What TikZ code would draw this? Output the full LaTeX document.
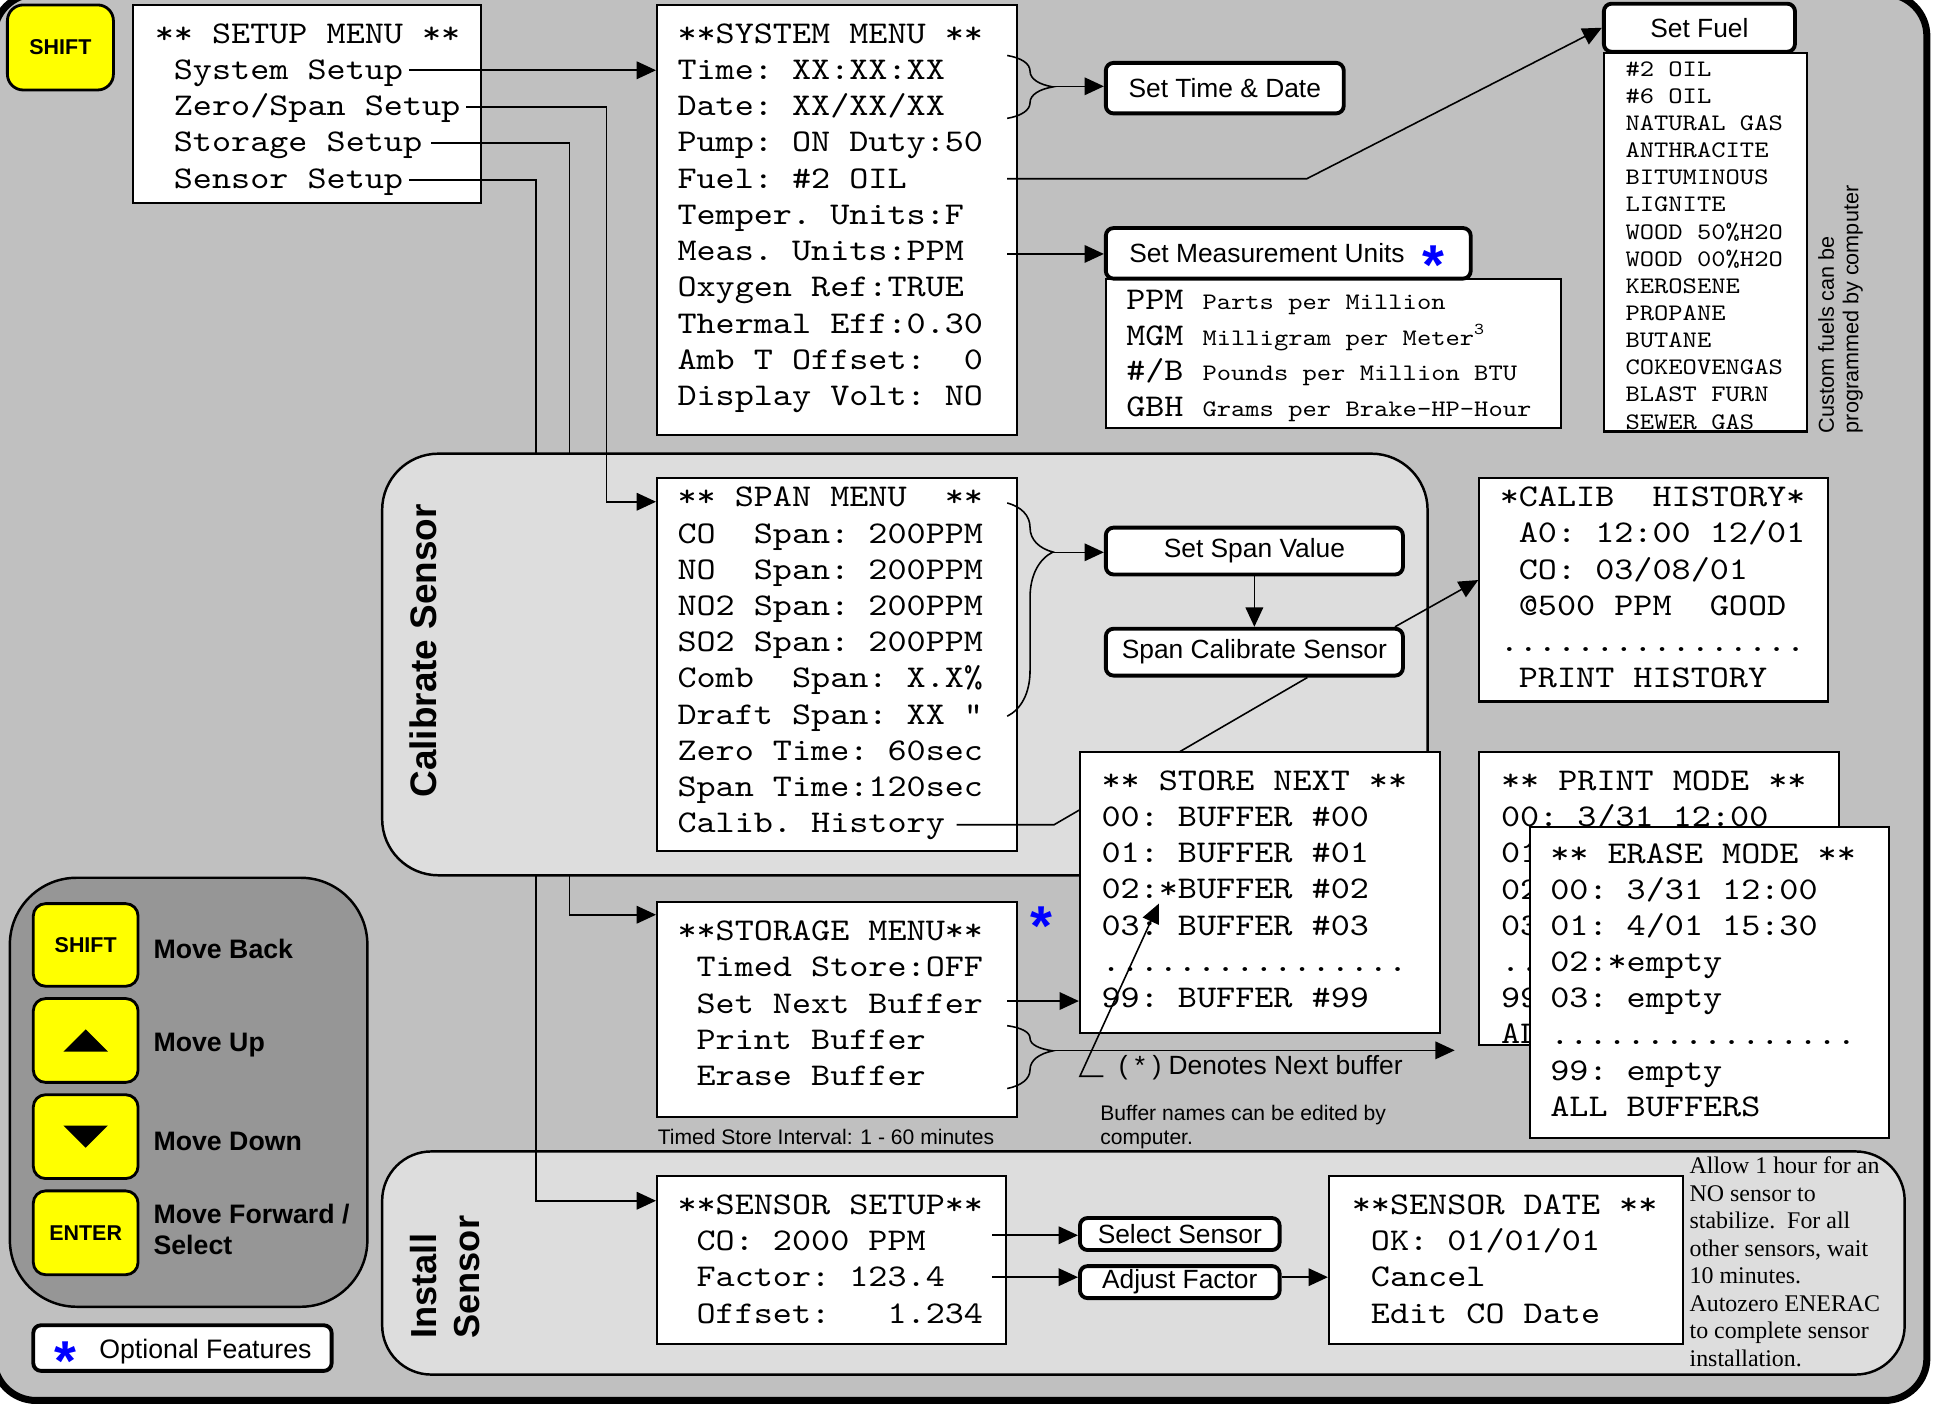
\documentclass[tikz,border=0pt]{standalone}
\usepackage{fontspec}
\setmainfont{Liberation Sans}
\newfontfamily\menufont[FakeStretch=1.15]{lmmono10-regular.otf}
\newfontfamily\notefont{Liberation Serif}
\usetikzlibrary{arrows.meta,calc,fit,decorations.pathreplacing}

\definecolor{bggray}{RGB}{192,192,192}
\definecolor{panelgray}{RGB}{221,221,221}
\definecolor{padgray}{RGB}{150,150,150}
\definecolor{keyyellow}{RGB}{255,255,0}
\definecolor{optblue}{RGB}{0,0,255}

\newcommand{\menusize}{\menufont\fontsize{9}{10.31}\selectfont}
\newcommand{\listsize}{\menufont\fontsize{6.74}{7.72}\selectfont}
\newcommand{\unitrow}[2]{\makebox[21.7pt][l]{#1}{\listsize #2}}

\begin{document}
\begin{tikzpicture}[x=0.012328cm, y=-0.012328cm,
  menubox/.style={draw, fill=white, line width=0.6pt, inner sep=0pt},
  menutext/.style={anchor=base west, inner sep=0pt, align=left, font=\menusize},
  rbox/.style={draw, fill=white, line width=1.1pt, rounded corners=2.2pt, inner sep=0pt},
  rtext/.style={inner sep=0pt, font=\fontsize{7.5}{9}\selectfont},
  keycap/.style={draw, fill=keyyellow, line width=0.8pt, rounded corners=3.5pt, inner sep=0pt},
  keytext/.style={inner sep=0pt, font=\bfseries\fontsize{6.1}{7}\selectfont},
  panel/.style={draw, fill=panelgray, line width=0.7pt, inner sep=0pt},
  wire/.style={line width=0.45pt},
  conn/.style={wire, -{Triangle[length=5.5pt,width=5pt]}},
  curly/.style={wire, decorate, decoration={brace, amplitude=13pt, aspect=#1}},
  curly/.default=0.5,
  keylabel/.style={anchor=west, inner sep=0pt, align=left,
    font=\bfseries\fontsize{7.6}{8.8}\selectfont},
  note/.style={inner sep=0pt, align=left, font=\fontsize{6}{6.7}\selectfont},
  optstar/.style={anchor=base, yshift=-8.8pt, inner sep=0pt, text=optblue,
    font=\bfseries\fontsize{16}{16}\selectfont}]

\useasboundingbox (0,0) rectangle (1568,1139);
\clip (0,0) rectangle (1568,1139);
\fill[white] (0,0) rectangle (1568,1139);
\filldraw[fill=bggray, line width=2pt, rounded corners=12pt] (-5,-5) rectangle (1563,1136);

% panels that lie under the wires
\node[panel, fill=padgray, rounded corners=19pt, fit={(8,712) (298,1060)}] (keypad) {};
\node[panel, rounded corners=14pt, fit={(310,934) (1545,1115)}] (install) {};

% setup menu and the boxes fed past the calibrate panel
\node[keycap, rounded corners=4.5pt, fit={(6,4) (92,73)}] (shifttop) {};
\node[keytext] (shifttop-t) at (shifttop) {SHIFT};
\node[menubox, fit={(108,4) (390,165)}] (setup) {};
\node[menutext] (setup-t) at (125,152.6) {**~SETUP~MENU~**\\~System~Setup\\~Zero/Span~Setup\\~Storage~Setup\\~Sensor~Setup};
\node[menubox, fit={(533,732) (825,906)}] (stormenu) {};
\node[menutext] (stormenu-t) at (549,880.6) {**STORAGE~MENU**\\~Timed~Store:OFF\\~Set~Next~Buffer\\~Print~Buffer\\~Erase~Buffer};
\node[menubox, fit={(533,954) (816,1090)}] (senssetup) {};
\node[menutext] (senssetup-t) at (549,1073.2) {**SENSOR~SETUP**\\~CO:~2000~PPM\\~Factor:~123.4\\~Offset:~~~1.234};

\coordinate (stor-out) at (350,116);
\coordinate (stor-run) at (462,742);
\coordinate (sens-out) at (332,146);
\coordinate (sens-run) at (435,974);
\draw[conn] (stor-out) -| (stor-run) -- (stor-run -| stormenu.west);
\draw[conn] (sens-out) -| (sens-run) -- (sens-run -| senssetup.west);

\node[panel, rounded corners=16pt, fit={(310,368) (1158,710)}] (calpanel) {};

% system menu
\node[menubox, fit={(533,4) (825,353)}] (sysmenu) {};
\node[menutext] (sysmenu-t) at (549,329) {**SYSTEM~MENU~**\\Time:~XX:XX:XX\\Date:~XX/XX/XX\\Pump:~ON~Duty:50\\Fuel:~\#2~OIL\\Temper.~Units:F\\Meas.~Units:PPM\\Oxygen~Ref:TRUE\\Thermal~Eff:0.30\\Amb~T~Offset:~~0\\Display~Volt:~NO};
\node[rbox, fit={(897,51) (1090,92)}] (timedate) {};
\node[rtext] (timedate-t) at (timedate) {Set Time \& Date};
\node[rbox, fit={(1301,3) (1456,42)}] (setfuel) {};
\node[rtext] (setfuel-t) at (setfuel) {Set Fuel};
\node[menubox, fit={(1301,43) (1466,350)}] (fuellist) {};
\node[menutext, font=\listsize] (fuellist-t) at (1318,348) {\#2~OIL\\\#6~OIL\\NATURAL~GAS\\ANTHRACITE\\BITUMINOUS\\LIGNITE\\WOOD~50\%H2O\\WOOD~00\%H2O\\KEROSENE\\PROPANE\\BUTANE\\COKEOVENGAS\\BLAST~FURN\\SEWER~GAS};
\node[menubox, fit={(897,226) (1266,347)}] (unitlist) {};
\node[menutext, font=\menufont\fontsize{9}{10.17}\selectfont] (unitlist-t) at (913,338) {\unitrow{PPM}{Parts~per~Million}\\\unitrow{MGM}{Milligram~per~Meter\textsuperscript{3}}\\\unitrow{\#/B}{Pounds~per~Million~BTU}\\\unitrow{GBH}{Grams~per~Brake-HP-Hour}};
\node[rbox, fit={(897,185) (1193,226)}] (setunits) {};
\node[rtext, anchor=west] (setunits-t) at ($(setunits.west)+(20,0)$) {Set Measurement Units};

% span menu
\node[menubox, fit={(533,388) (825,690)}] (spanmenu) {};
\node[menutext] (spanmenu-t) at (549,675.6) {**~SPAN~MENU~~**\\CO~~Span:~200PPM\\NO~~Span:~200PPM\\NO2~Span:~200PPM\\SO2~Span:~200PPM\\Comb~~Span:~X.X\%\\Draft~Span:~XX~"\\Zero~Time:~60sec\\Span~Time:120sec\\Calib.~History};
\node[rbox, fit={(897,428) (1138,466)}] (setspan) {};
\node[rtext] (setspan-t) at (setspan) {Set Span Value};
\node[rbox, fit={(897,510) (1138,548)}] (spancal) {};
\node[rtext] (spancal-t) at (spancal) {Span Calibrate Sensor};
\node[menubox, fit={(1200,388) (1483,569)}] (calib) {};
\node[menutext] (calib-t) at (1216,558) {*CALIB~~HISTORY*\\~A0:~12:00~12/01\\~CO:~03/08/01\\~@500~PPM~~GOOD\\................\\~PRINT~HISTORY};

\coordinate (hist-out) at (776,669);
\coordinate (hist-bend) at (855,669);
\draw[wire] (hist-out) -- (hist-bend) -- ($(spancal.south)+(43,0)$);

% buffers
\node[menubox, fit={(876,610) (1168,838)}] (storenext) {};
\node[menutext] (storenext-t) at (893,817.4) {**~STORE~NEXT~**\\00:~BUFFER~\#00\\01:~BUFFER~\#01\\02:*BUFFER~\#02\\03:~BUFFER~\#03\\................\\99:~BUFFER~\#99};
\node[menubox, fit={(1200,610) (1492,848)}] (printmode) {};
\node[menutext] (printmode-t) at (1217,846.8) {**~PRINT~MODE~**\\00:~3/31~12:00\\01:~4/01~15:30\\02:*empty\\03:~empty\\................\\99:~empty\\ALL~BUFFERS};
\node[menubox, fit={(1241,671) (1532,923)}] (erasemode) {};
\node[menutext] (erasemode-t) at (1257,905.8) {**~ERASE~MODE~**\\00:~3/31~12:00\\01:~4/01~15:30\\02:*empty\\03:~empty\\................\\99:~empty\\ALL~BUFFERS};

% sensor install
\node[rbox, fit={(876,988) (1038,1014)}] (selsensor) {};
\node[rtext] (selsensor-t) at (selsensor) {Select Sensor};
\node[rbox, fit={(876,1027) (1038,1053)}] (adjfactor) {};
\node[rtext] (adjfactor-t) at (adjfactor) {Adjust Factor};
\node[menubox, fit={(1078,954) (1365,1090)}] (sensdate) {};
\node[menutext] (sensdate-t) at (1096,1073.2) {**SENSOR~DATE~**\\~OK:~01/01/01\\~Cancel\\~Edit~CO~Date};

% connectors
\coordinate (sys-out) at (332,57);
\coordinate (zero-out) at (378,87);
\coordinate (zero-run) at (492,407);
\draw[conn] (sys-out) -- (sys-out -| sysmenu.west);
\draw[conn] (zero-out) -| (zero-run) -- (zero-run -| spanmenu.west);

\coordinate (td-top) at (817,45);
\coordinate (td-bot) at (817,96);
\coordinate (td-tip) at (854,70);
\draw[curly] (td-top) -- (td-bot);
\draw[conn] (td-tip) -- (td-tip -| timedate.west);

\coordinate (fuel-out) at (817,145);
\coordinate (fuel-bend) at (1060,145);
\draw[conn] (fuel-out) -- (fuel-bend) -- (setfuel.west);

\coordinate (meas-out) at (817,206);
\draw[conn] (meas-out) -- (meas-out -| setunits.west);

\coordinate (sp-top) at (817,408);
\coordinate (sp-bot) at (817,581);
\coordinate (sp-tip) at (854,448);
\draw[curly=0.23] (sp-top) -- (sp-bot);
\draw[conn] (sp-tip) -- (sp-tip -| setspan.west);
\draw[conn] (setspan) -- (spancal);
\draw[conn] ($(spancal.north east)+(-8,0)$) -- ($(calib.west)+(0,-8)$);

\coordinate (next-out) at (817,812);
\draw[conn] (next-out) -- (next-out -| storenext.west);
\coordinate (pb-top) at (817,832);
\coordinate (pb-bot) at (817,883);
\coordinate (pb-tip) at (854,852);
\coordinate (pb-end) at (1180,852);
\draw[curly=0.4] (pb-top) -- (pb-bot);
\draw[conn] (pb-tip) -- (pb-end);

\coordinate (co-out) at (805,1002);
\coordinate (fac-out) at (805,1036);
\draw[conn] (co-out) -- (co-out -| selsensor.west);
\draw[conn] (fac-out) -- (fac-out -| adjfactor.west);
\draw[conn] (fac-out -| adjfactor.east) -- (fac-out -| sensdate.west);

% next buffer mark
\node[anchor=west, inner sep=0pt, font=\fontsize{7.5}{9}\selectfont] (denote) at (907,866) {( * ) Denotes Next buffer};
\coordinate (mark-start) at (895,873);
\coordinate (mark-corner) at (876,873);
\coordinate (mark-tip) at (940,733);
\draw[conn] (mark-start) -- (mark-corner) -- (mark-tip);

\node[optstar] (opt-units) at (1163,206) {*};
\node[optstar] (opt-stor) at (845,742) {*};

% notes
\node[note, anchor=west] (interval) at (533,922) {Timed Store Interval: 1 - 60 minutes};
\node[note, anchor=north west] (rename) at (892,896) {Buffer names can be edited by\\computer.};
\node[note, anchor=north west, font=\notefont\fontsize{6.8}{7.82}\selectfont] (sensnote) at (1370,938) {Allow 1 hour for an\\NO sensor to\\stabilize.\ \ For all\\other sensors, wait\\10 minutes.\\Autozero ENERAC\\to complete sensor\\installation.};
\node[rotate=90, inner sep=0pt, align=left, font=\fontsize{6.15}{7}\selectfont] (fuel-note) at (1493,251) {Custom fuels can be\\programmed by computer};

% panel titles
\node[rotate=90, inner sep=0pt, font=\bfseries\fontsize{10.5}{12}\selectfont] (cal-label) at (343,528) {Calibrate Sensor};
\node[rotate=90, inner sep=0pt, align=left, font=\bfseries\fontsize{10.3}{12.3}\selectfont] (inst-label) at (361,1036) {Install\\Sensor};

% key legend
\node[keycap, fit={(27,733) (112,800)}] (key-shift) {};
\node[keytext] (key-shift-t) at (key-shift) {SHIFT};
\node[keycap, fit={(27,810) (112,878)}] (key-up) {};
\node[keycap, fit={(27,888) (112,956)}] (key-down) {};
\node[keycap, fit={(27,966) (112,1034)}] (key-enter) {};
\node[keytext] (key-enter-t) at (key-enter) {ENTER};
\fill ($(key-up)+(-18,9)$) -- ($(key-up)+(18,9)$) -- ($(key-up)+(0,-9)$) -- cycle;
\fill ($(key-down)+(-18,-9)$) -- ($(key-down)+(18,-9)$) -- ($(key-down)+(0,9)$) -- cycle;
\node[keylabel] (lbl-back) at (124,770) {Move Back};
\node[keylabel] (lbl-up) at (124,848) {Move Up};
\node[keylabel] (lbl-down) at (124,926) {Move Down};
\node[keylabel] (lbl-fwd) at (124,997) {Move Forward /\\Select};

\node[rbox, fit={(27,1075) (269,1112)}] (optbox) {};
\node[optstar] (opt-key) at (53,1095) {*};
\node[rtext, anchor=west, font=\fontsize{7.6}{9}\selectfont] (opt-text) at (80,1096) {Optional Features};
\end{tikzpicture}
\end{document}
